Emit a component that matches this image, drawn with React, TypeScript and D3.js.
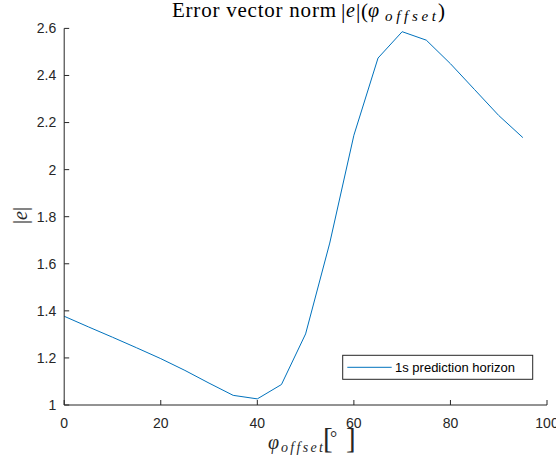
import React from "react";
import * as d3 from "d3";

const phiOffset = [0, 5, 10, 15, 20, 25, 30, 35, 40, 45, 50, 55, 60, 65, 70, 75, 80, 85, 90, 95];
const errNorm = [1.377, 1.332, 1.288, 1.243, 1.197, 1.147, 1.093, 1.041, 1.026, 1.087, 1.302, 1.688, 2.146, 2.474, 2.586, 2.55, 2.45, 2.34, 2.23, 2.136];
const xTicks = [0, 20, 40, 60, 80, 100];
const yTicks = [1, 1.2, 1.4, 1.6, 1.8, 2, 2.2, 2.4, 2.6];
const legendLabel = "1s prediction horizon";
const titleText = "Error vector norm";

const W = 556;
const H = 463;
const left = 64.2;
const right = 547;
const top = 28.4;
const bottom = 405;
const axisColor = "#262626";
const lineColor = "#0072BD";
const sans = "'Liberation Sans', Arial, Helvetica, sans-serif";
const serif = "'Liberation Serif', 'DejaVu Serif', serif";

export default function App() {
  const x = d3.scaleLinear().domain([0, 100]).range([left, right]);
  const y = d3.scaleLinear().domain([1, 2.6]).range([bottom, top]);
  const line = d3
    .line<number>()
    .x((_, i) => x(phiOffset[i]))
    .y((d) => y(d));
  const tickLen = 5;
  const lg = { x0: 342.7, y0: 355.3, w: 190, h: 24 };
  const tb = 17; // title baseline
  const xb = 449; // x-label baseline

  return (
    <svg
      width={W}
      height={H}
      viewBox={`0 0 ${W} ${H}`}
      style={{ position: "absolute", left: 0, top: 0, background: "#fff" }}
    >
      <rect x={0} y={0} width={W} height={H} fill="#fff" />
      {/* data line */}
      <path d={line(errNorm) || ""} fill="none" stroke={lineColor} strokeWidth={1} />
      {/* axes */}
      <line x1={left} x2={right} y1={bottom} y2={bottom} stroke={axisColor} strokeWidth={1} />
      <line x1={left} x2={left} y1={top} y2={bottom} stroke={axisColor} strokeWidth={1} />
      {xTicks.map((t) => (
        <g key={"x" + t}>
          <line x1={x(t)} x2={x(t)} y1={bottom} y2={bottom - tickLen} stroke={axisColor} strokeWidth={1} />
          <text
            x={x(t)}
            y={bottom + 23}
            textAnchor="middle"
            fontFamily={sans}
            fontSize={14}
            fill={axisColor}
          >
            {t}
          </text>
        </g>
      ))}
      {yTicks.map((t) => (
        <g key={"y" + t}>
          <line x1={left} x2={left + tickLen} y1={y(t)} y2={y(t)} stroke={axisColor} strokeWidth={1} />
          <text
            x={left - 8}
            y={y(t)}
            dy="0.35em"
            textAnchor="end"
            fontFamily={sans}
            fontSize={14}
            fill={axisColor}
          >
            {t}
          </text>
        </g>
      ))}
      {/* title */}
      <g fontFamily={serif} fill="#000">
        <text x={172} y={tb} fontSize={21} textLength={164} lengthAdjust="spacing">{titleText}</text>
        <text x={341} y={tb + 1} fontSize={22}>|</text>
        <text x={346} y={tb} fontStyle="italic" fontSize={20}>e</text>
        <text x={356} y={tb + 1} fontSize={22}>|</text>
        <text x={361} y={tb + 1} fontSize={21}>(</text>
        <text x={368} y={tb} fontStyle="italic" fontSize={20}>φ</text>
        <text x={385} y={tb + 4} fontStyle="italic" fontSize={15} textLength={51} lengthAdjust="spacing">offset</text>
        <text x={438} y={tb + 1} fontSize={21}>)</text>
      </g>
      {/* y label */}
      <text
        transform={`translate(27, 215.5) rotate(-90)`}
        textAnchor="middle"
        fontFamily={serif}
        fontSize={20}
        fill={axisColor}
      >
        |<tspan fontStyle="italic">e</tspan>|
      </text>
      {/* x label */}
      <g fontFamily={serif} fill={axisColor}>
        <text x={268} y={xb} fontStyle="italic" fontSize={20}>φ</text>
        <text x={281} y={xb + 3} fontStyle="italic" fontSize={14} textLength={42} lengthAdjust="spacing">offset</text>
        <text x={323} y={xb - 1} fontSize={29}>[</text>
        <text x={330} y={xb - 5} fontSize={18}>°</text>
        <text x={346} y={xb - 1} fontSize={29}>]</text>
      </g>
      {/* legend */}
      <rect x={lg.x0} y={lg.y0} width={lg.w} height={lg.h} fill="#fff" stroke={axisColor} strokeWidth={1} />
      <line x1={347.3} x2={391.7} y1={lg.y0 + lg.h / 2} y2={lg.y0 + lg.h / 2} stroke={lineColor} strokeWidth={1} />
      <text x={395} y={lg.y0 + lg.h / 2} dy="0.35em" fontFamily={sans} fontSize={13} fill="#000">
        {legendLabel}
      </text>
    </svg>
  );
}
